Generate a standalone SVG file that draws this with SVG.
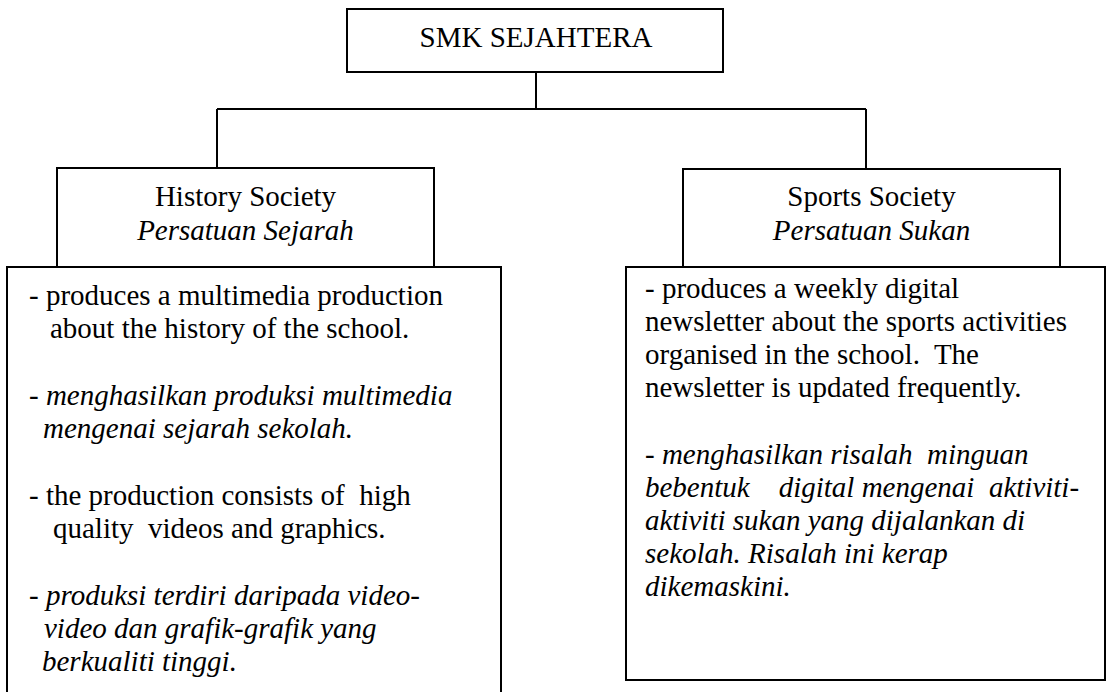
<svg xmlns="http://www.w3.org/2000/svg" width="1112" height="692" viewBox="0 0 1112 692">
<style>
.box{fill:#fff;stroke:#000;stroke-width:2}
.conn{fill:none;stroke:#000;stroke-width:2}
text{font-family:"Liberation Serif","Times New Roman",serif;font-size:29px;fill:#000}
.c{text-anchor:middle}
.i{font-style:italic}
</style>
<rect width="1112" height="692" fill="#fff"/>
<g id="connectors">
<path class="conn" d="M536 72 V109 M217 109 H866 M217 109 V168 M866 109 V169"/>
</g>
<g id="root">
<rect class="box" x="347" y="9" width="376" height="63"/>
<text class="c" x="536" y="47">SMK SEJAHTERA</text>
</g>
<g id="history-header">
<rect class="box" x="57" y="168" width="377" height="99"/>
<text class="c" x="245.5" y="206">History Society</text>
<text class="c i" x="245.5" y="240">Persatuan Sejarah</text>
</g>
<g id="history-details">
<rect class="box" x="7" y="267" width="494" height="440"/>
<text x="29" y="305">- produces a multimedia production</text>
<text x="50" y="338">about the history of the school.</text>
<text x="29" y="405">- <tspan class="i">menghasilkan produksi multimedia</tspan></text>
<text class="i" x="43" y="438">mengenai sejarah sekolah.</text>
<text x="29" y="505" xml:space="preserve">- the production consists of  high</text>
<text x="53" y="538" xml:space="preserve">quality  videos and graphics.</text>
<text x="29" y="605">- <tspan class="i">produksi terdiri daripada video-</tspan></text>
<text class="i" x="44" y="638">video dan grafik-grafik yang</text>
<text class="i" x="42" y="671">berkualiti tinggi.</text>
</g>
<g id="sports-header">
<rect class="box" x="683" y="169" width="377" height="98"/>
<text class="c" x="871.5" y="206">Sports Society</text>
<text class="c i" x="871.5" y="240">Persatuan Sukan</text>
</g>
<g id="sports-details">
<rect class="box" x="626" y="267" width="479" height="413"/>
<text x="645" y="298">- produces a weekly digital</text>
<text x="645" y="331">newsletter about the sports activities</text>
<text x="645" y="364" xml:space="preserve">organised in the school.  The</text>
<text x="645" y="397">newsletter is updated frequently.</text>
<text x="645" y="464" xml:space="preserve">- <tspan class="i">menghasilkan risalah  minguan</tspan></text>
<text class="i" x="645" y="497" xml:space="preserve">bebentuk    digital mengenai  aktiviti-</text>
<text class="i" x="645" y="530">aktiviti sukan yang dijalankan di</text>
<text class="i" x="645" y="563">sekolah. Risalah ini kerap</text>
<text class="i" x="645" y="596">dikemaskini.</text>
</g>
</svg>
